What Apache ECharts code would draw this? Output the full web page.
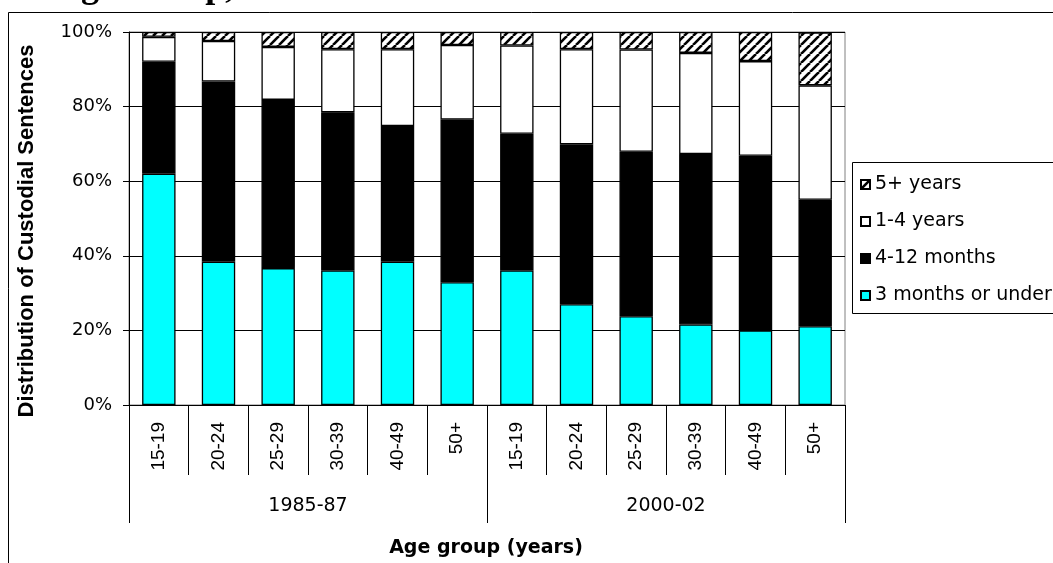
<!DOCTYPE html>
<html>
<head>
<meta charset="utf-8">
<script src="https://cdn.jsdelivr.net/npm/echarts@6/dist/echarts.min.js"></script>
<style>
html,body{margin:0;padding:0;background:#fff;}
#chart{width:1053px;height:563px;}
</style>
</head>
<body>
<div id="chart"></div>
<script>
// ---- data ----
var ageGroups = ['15-19','20-24','25-29','30-39','40-49','50+','15-19','20-24','25-29','30-39','40-49','50+'];
var periods = ['1985-87','2000-02'];
var under3m   = [62.0, 38.4, 36.7, 36.1, 38.4, 32.9, 36.1, 27.0, 23.8, 21.6, 20.0, 21.1];
var m4to12    = [30.0, 48.3, 45.1, 42.4, 36.4, 43.6, 36.6, 42.9, 44.1, 45.7, 46.8, 33.9];
var y1to4     = [ 6.7, 10.9, 14.2, 16.9, 20.6, 20.0, 23.7, 25.5, 27.4, 27.1, 25.4, 30.7];
var y5plus    = [ 1.3,  2.4,  4.0,  4.6,  4.6,  3.5,  3.6,  4.6,  4.7,  5.6,  7.8, 14.2];
var yTicks = [0, 20, 40, 60, 80, 100];
var seriesNames = ['3 months or under','4-12 months','1-4 years','5+ years'];
var legendOrder = ['5+ years','1-4 years','4-12 months','3 months or under'];

// hatch pattern
var pc = document.createElement('canvas');
pc.width = 9; pc.height = 9;
var ctx = pc.getContext('2d');
ctx.fillStyle = '#fff'; ctx.fillRect(0,0,9,9);
ctx.strokeStyle = '#000'; ctx.lineWidth = 2.6;
[-9,0,9].forEach(function(k){ ctx.beginPath(); ctx.moveTo(k,9); ctx.lineTo(k+9,0); ctx.stroke(); });
var hatch = {image: pc, repeat: 'repeat'};

var chart = echarts.init(document.getElementById('chart'));

function barSeries(name, data, color){
  return {
    name: name, type: 'bar', stack: 'total', data: data,
    xAxisIndex: 0, yAxisIndex: 0,
    barCategoryGap: '44%',
    itemStyle: {color: color, borderColor: '#000', borderWidth: 1.3},
    emphasis: {disabled: true}
  };
}

chart.setOption({
  animation: false,
  backgroundColor: '#fff',
  grid: {left: 129, right: 208, top: 32, bottom: 158, show: true, borderColor: '#808080', borderWidth: 1},
  legend: {
    data: legendOrder, orient: 'vertical', left: 860, top: 175, padding: 0,
    icon: 'rect',
    itemWidth: 9, itemHeight: 9, itemGap: 18,
    textStyle: {fontFamily:'DejaVu Sans', fontSize: 19, color:'#000'},
    selectedMode: false
  },
  xAxis: [
    {
      type: 'category', data: ageGroups, position: 'bottom',
      axisLine: {show: true, lineStyle: {color:'#000', width:1}},
      axisTick: {show: true, interval: 0, length: 70, lineStyle: {color:'#000'}},
      axisLabel: {interval: 0, rotate: 90, margin: 17, fontFamily:'Liberation Sans', fontSize: 19, color:'#000'}
    },
    {
      type: 'category', data: periods, position: 'bottom', gridIndex: 0,
      axisLine: {show: false},
      axisTick: {show: true, interval: 0, length: 118, lineStyle: {color:'#000'}},
      axisLabel: {interval: 0, margin: 92, fontFamily:'DejaVu Sans', fontSize: 19, color:'#000'},
      splitLine: {show: false}
    }
  ],
  yAxis: {
    type: 'value', min: yTicks[0], max: yTicks[yTicks.length-1], interval: 20,
    axisLine: {show: true, lineStyle: {color:'#000'}},
    axisTick: {show: true, length: 6, lineStyle: {color:'#000'}},
    axisLabel: {formatter: '{value}%', margin: 17, fontFamily:'DejaVu Sans', fontSize: 18, color:'#000'},
    splitLine: {show: true, lineStyle: {color:'#000', width: 1}}
  },
  graphic: [
    {type:'rect', shape:{x:8.5, y:12.5, width:1200, height:700}, style:{fill:'none', stroke:'#000', lineWidth:1}, silent:true, z: 0},
    {type:'rect', shape:{x:852.5, y:162.5, width:300, height:151}, style:{fill:'#fff', stroke:'#000', lineWidth:1}, silent:true, z: -1},
    {type:'text', x: 55, y: -12, style:{text:'Age Group,', font:'bold 36px "Liberation Serif"', fill:'#000', verticalAlign:'middle'}, silent:true},
    {type:'text', x: 27, y: 231, rotation: Math.PI/2, style:{text:'Distribution of Custodial Sentences', font:'bold 22px "Liberation Sans"', fill:'#000', align:'center', verticalAlign:'middle'}, silent:true},
    {type:'text', x: 486, y: 548, style:{text:'Age group (years)', font:'bold 19px "DejaVu Sans"', fill:'#000', align:'center', verticalAlign:'middle'}, silent:true}
  ],
  series: [
    barSeries(seriesNames[0], under3m, '#00FFFF'),
    barSeries(seriesNames[1], m4to12, '#000000'),
    barSeries(seriesNames[2], y1to4, '#FFFFFF'),
    barSeries(seriesNames[3], y5plus, hatch)
  ]
});
</script>
</body>
</html>
